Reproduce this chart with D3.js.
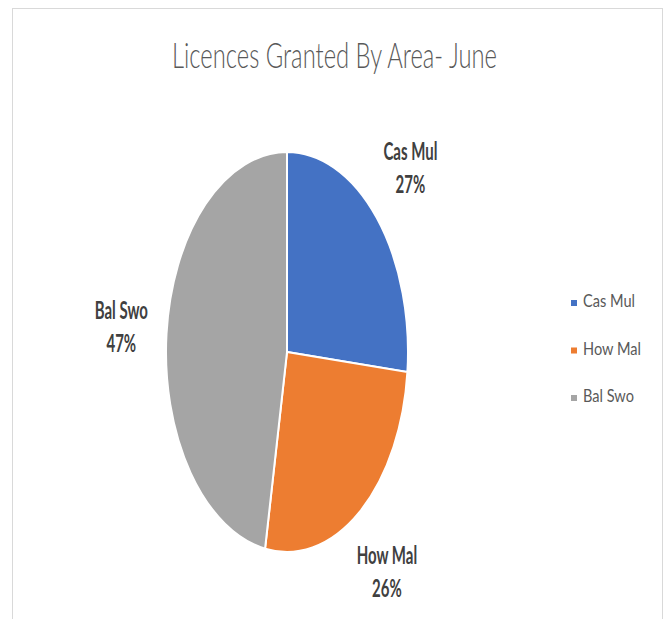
<!DOCTYPE html>
<html>
<head>
<meta charset="utf-8">
<script src="https://cdn.jsdelivr.net/npm/d3@7/dist/d3.min.js"></script>
<style>
  html, body { margin: 0; padding: 0; background: #fff; }
  svg { display: block; font-family: 'Lato', 'Open Sans', sans-serif; }
</style>
</head>
<body>
<svg id="chart" width="665" height="619"></svg>
<script>
  /* ---- data ---- */
  const TITLE = 'Licences Granted By Area- June';
  const areas = ['Cas Mul', 'How Mal', 'Bal Swo'];
  const shares = [26.6, 26.3, 47.1];
  const colors = ['#4472C4', '#ED7D31', '#A5A5A5'];

  const W = 665, H = 619;
  const cx = 287, cy = 352;
  const R = 200;          // vertical radius
  const squash = 0.605;   // picture is squeezed horizontally

  const svg = d3.select('#chart');

  // chart frame
  svg.append('rect')
    .attr('x', 12.5).attr('y', 8.5)
    .attr('width', 650).attr('height', 640)
    .attr('fill', '#fff')
    .attr('stroke', '#d9d9d9')
    .attr('stroke-width', 1);

  // squeeze a text node to a target width measured from its own string
  function squeezeTo(sel, targetWidth) {
    const len = sel.node().getComputedTextLength();
    return targetWidth / len;
  }

  /* ---- title ---- */
  const title = svg.append('text')
    .attr('text-anchor', 'middle')
    .attr('font-size', 35)
    .attr('font-weight', 300)
    .attr('fill', '#595959')
    .text(TITLE);
  const tsx = squeezeTo(title, 325);
  title.attr('transform', `translate(334.5,68) scale(${tsx},1)`);

  /* ---- pie ---- */
  const pie = d3.pie().sort(null).value(d => d);
  const arcs = pie(shares);
  const arc = d3.arc().innerRadius(0).outerRadius(R);

  const g = svg.append('g')
    .attr('transform', `translate(${cx},${cy}) scale(${squash},1)`);

  g.selectAll('path.slice')
    .data(arcs)
    .join('path')
    .attr('class', 'slice')
    .attr('d', arc)
    .attr('fill', (d, i) => colors[i])
    .attr('stroke', '#fff')
    .attr('stroke-width', 2)
    .attr('vector-effect', 'non-scaling-stroke');

  /* ---- data labels (outside end) ---- */
  const labelArc = d3.arc().innerRadius(275).outerRadius(275);
  const total = d3.sum(shares);

  const labels = svg.append('g').selectAll('g.lbl')
    .data(arcs)
    .join('g')
    .attr('class', 'lbl');

  labels.each(function (d, i) {
    const c = labelArc.centroid(d);
    const x = cx + c[0] * squash;
    const y = cy + c[1];
    const grp = d3.select(this);
    const t1 = grp.append('text')
      .attr('text-anchor', 'middle')
      .attr('font-size', 25)
      .attr('font-weight', 700)
      .attr('fill', '#404040')
      .text(areas[i]);
    const t2 = grp.append('text')
      .attr('text-anchor', 'middle')
      .attr('font-size', 25)
      .attr('font-weight', 700)
      .attr('fill', '#404040')
      .text(Math.round(d.data / total * 100) + '%');
    grp.attr('data-x', x).attr('data-y', y);
  });

  // one squeeze factor for all labels, from "Cas Mul" (about 54px wide)
  const lsx = squeezeTo(labels.filter((d, i) => i === 0).select('text'), 54);
  labels.each(function () {
    const grp = d3.select(this);
    const x = +grp.attr('data-x'), y = +grp.attr('data-y');
    const ts = grp.selectAll('text').nodes();
    d3.select(ts[0]).attr('transform', `translate(${x},${y - 7.5}) scale(${lsx},1)`);
    d3.select(ts[1]).attr('transform', `translate(${x},${y + 25.5}) scale(${lsx},1)`);
  });

  /* ---- legend ---- */
  const ly = d3.scalePoint().domain(areas).range([303, 398]);
  const legend = svg.append('g').selectAll('g.leg')
    .data(areas)
    .join('g')
    .attr('class', 'leg');

  legend.append('rect')
    .attr('x', 571)
    .attr('y', d => ly(d) - 3)
    .attr('width', 6).attr('height', 6)
    .attr('fill', (d, i) => colors[i]);

  const legText = legend.append('text')
    .attr('font-size', 17)
    .attr('fill', '#595959')
    .text(d => d);
  const gsx = squeezeTo(legText.filter((d, i) => i === 0), 52);
  legText.attr('transform', d => `translate(583,${ly(d) + 4}) scale(${gsx},1)`);
</script>
</body>
</html>
